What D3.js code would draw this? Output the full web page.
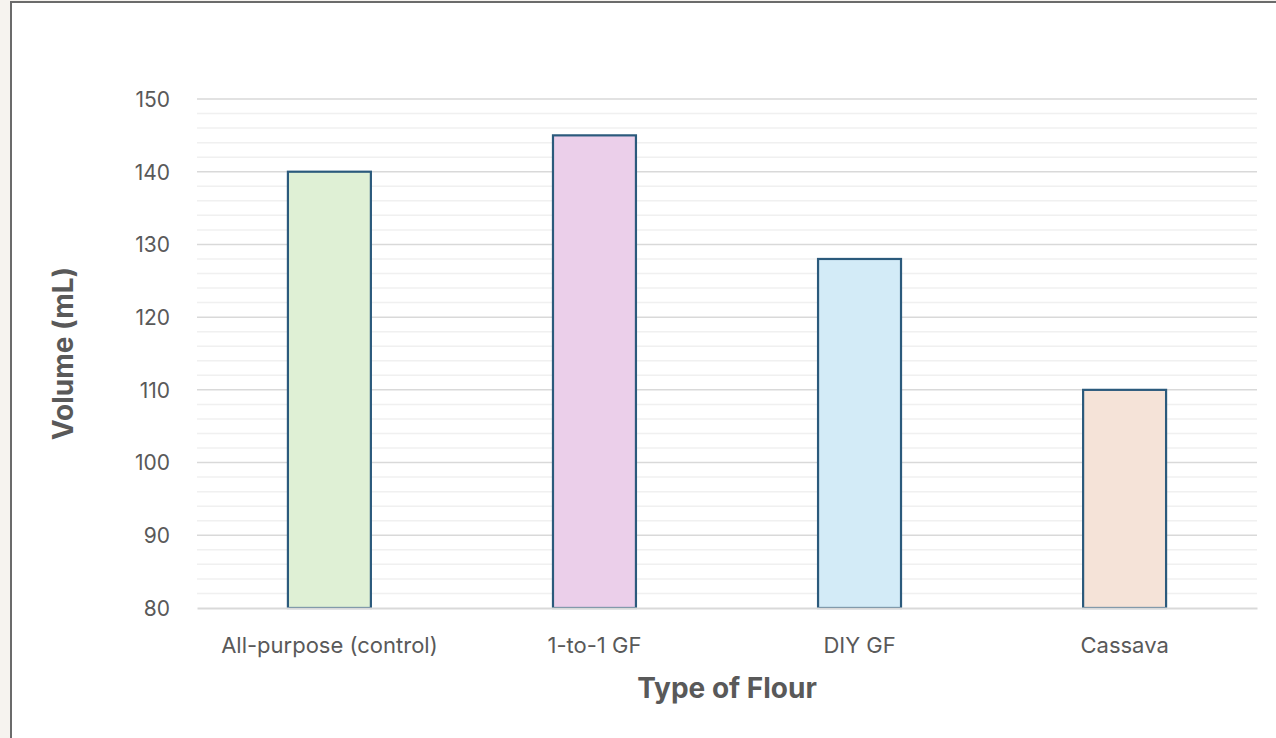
<!DOCTYPE html>
<html>
<head>
<meta charset="utf-8">
<script src="https://cdn.jsdelivr.net/npm/d3@7"></script>
<style>
  html, body { margin: 0; padding: 0; background: #f6f3ef; }
  svg { display: block; }
</style>
</head>
<body>
<svg id="chart" width="1276" height="738"></svg>
<script>
// Loaf volume by flour type
const categories = ["All-purpose (control)", "1-to-1 GF", "DIY GF", "Cassava"];
const volumes = [140, 145, 128, 110];
const barColors = ["#dff0d5", "#ebcfea", "#d3ebf7", "#f5e3d8"];
const yTicks = [80, 90, 100, 110, 120, 130, 140, 150];
const yMinorTicks = d3.range(80, 151, 2);

const W = 1276, H = 738;
const svg = d3.select("#chart");

// Panel
svg.append("rect").attr("x", 0).attr("y", 0).attr("width", W).attr("height", H).attr("fill", "#f6f3ef");
svg.append("rect").attr("x", 11).attr("y", 2).attr("width", W + 10).attr("height", H + 10)
  .attr("fill", "#ffffff").attr("stroke", "#6b6b6b").attr("stroke-width", 2);

const plot = { left: 197, right: 1257, top: 99, bottom: 608 };

const x = d3.scaleBand().domain(categories).range([plot.left, plot.right]).paddingInner(0.687).paddingOuter(0.343);
const y = d3.scaleLinear().domain([80, 150]).range([plot.bottom, plot.top]);

const font = "Inter, 'Open Sans', sans-serif";

// Minor gridlines
svg.append("g").selectAll("line").data(yMinorTicks.filter(v => v % 10 !== 0)).join("line")
  .attr("x1", plot.left).attr("x2", plot.right)
  .attr("y1", d => y(d)).attr("y2", d => y(d))
  .attr("stroke", "#f0f0f0").attr("stroke-width", 1.5);

// Major gridlines
svg.append("g").selectAll("line").data(yTicks.filter(v => v !== 80)).join("line")
  .attr("x1", plot.left).attr("x2", plot.right)
  .attr("y1", d => y(d)).attr("y2", d => y(d))
  .attr("stroke", "#d9d9d9").attr("stroke-width", 1.5);

// Y axis labels
const yAxis = d3.axisLeft(y).tickValues(yTicks).tickSize(0).tickPadding(0);
const yg = svg.append("g").attr("transform", `translate(${plot.left - 27},0)`).call(yAxis);
yg.select(".domain").remove();
yg.selectAll("text").attr("font-family", font).attr("font-size", 21).attr("fill", "#595959")
  .attr("dy", "0.35em");

// Bars
svg.append("g").selectAll("rect").data(categories).join("rect")
  .attr("x", d => x(d))
  .attr("y", (d, i) => y(volumes[i]))
  .attr("width", x.bandwidth())
  .attr("height", (d, i) => y(80) - y(volumes[i]))
  .attr("fill", (d, i) => barColors[i])
  .attr("stroke", "#2b5a7c").attr("stroke-width", 2.2);

// Baseline axis
const xAxis = d3.axisBottom(x).tickSize(0).tickPadding(0);
const xg = svg.append("g").attr("transform", `translate(0,${plot.bottom})`).call(xAxis);
xg.select(".domain").attr("stroke", "#d9d9d9").attr("stroke-width", 2);
xg.selectAll("text").attr("font-family", font).attr("font-size", 22).attr("fill", "#595959")
  .attr("y", 45).attr("dy", 0);

// Axis titles
svg.append("text").attr("x", (plot.left + plot.right) / 2).attr("y", 698)
  .attr("text-anchor", "middle").attr("font-family", font).attr("font-weight", "bold")
  .attr("font-size", 28).attr("fill", "#595959").text("Type of Flour");

svg.append("text").attr("transform", `translate(73,${(plot.top + plot.bottom) / 2}) rotate(-90)`)
  .attr("text-anchor", "middle").attr("font-family", font).attr("font-weight", "bold")
  .attr("font-size", 28).attr("fill", "#595959").text("Volume (mL)");
</script>
</body>
</html>
